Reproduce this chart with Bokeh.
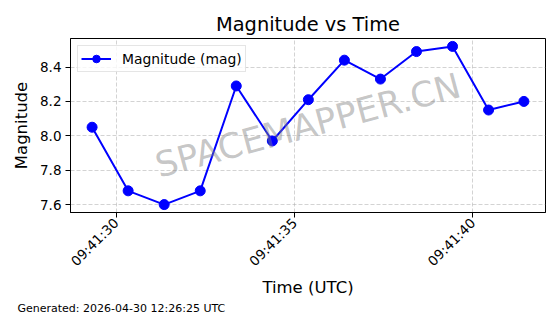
import math
import pandas as pd
from bokeh.plotting import figure
from bokeh.models import (Range1d, FixedTicker, DatetimeTickFormatter, Label, Title,
                          Legend, LegendItem, NumeralTickFormatter)
from bokeh.embed import file_html
from bokeh.resources import INLINE

# ---------------- data ----------------
date = "2026-04-30"
times = ["09:41:29.33", "09:41:30.34", "09:41:31.35", "09:41:32.36", "09:41:33.37",
         "09:41:34.38", "09:41:35.39", "09:41:36.40", "09:41:37.41", "09:41:38.42",
         "09:41:39.43", "09:41:40.44", "09:41:41.43"]
magnitudes = [8.05, 7.68, 7.60, 7.68, 8.29, 7.97, 8.21, 8.44, 8.33, 8.49, 8.52, 8.15, 8.20]
x_tick_labels = ["09:41:30", "09:41:35", "09:41:40"]
y_ticks = [7.6, 7.8, 8.0, 8.2, 8.4]
title_text = "Magnitude vs Time"
x_label = "Time (UTC)"
y_label = "Magnitude"
series_label = "Magnitude (mag)"
watermark = "SPACEMAPPER.CN"
footer_text = "Generated: 2026-04-30 12:26:25 UTC"

FONT = "DejaVu Sans"

xs = pd.to_datetime([f"{date} {t}" for t in times])
x_ms = [v / 1e6 for v in xs.asi8]
tick_ms = [pd.Timestamp(f"{date} {t}").value / 1e6 for t in x_tick_labels]

# matplotlib-like 5% margins
xmin, xmax = min(x_ms), max(x_ms)
ymin, ymax = min(magnitudes), max(magnitudes)
xpad = (xmax - xmin) * 0.05
ypad = (ymax - ymin) * 0.05
x0, x1 = xmin - xpad, xmax + xpad
y0, y1 = ymin - ypad, ymax + ypad

p = figure(width=560, height=314, x_axis_type="datetime", output_backend="svg",
           toolbar_location=None, x_range=Range1d(x0, x1), y_range=Range1d(y0, y1),
           min_border_left=70, min_border_right=15, min_border_top=38, min_border_bottom=102)

p.background_fill_color = "white"
p.border_fill_color = "white"
p.outline_line_color = "black"
p.outline_line_width = 1
p.outline_line_alpha = 1

# title
p.title.text = title_text
p.title.align = "center"
p.title.text_font = FONT
p.title.text_font_size = "19.4px"
p.title.text_font_style = "normal"
p.title.text_color = "black"
p.title.standoff = 6

# glyphs
line_r = p.line(x=xs, y=magnitudes, line_color="blue", line_width=2)
scat_r = p.scatter(x=xs, y=magnitudes, size=10, fill_color="blue", line_color="blue")

# axes
p.xaxis.ticker = FixedTicker(ticks=tick_ms)
fmt = "%H:%M:%S"
p.xaxis.formatter = DatetimeTickFormatter(milliseconds=fmt, seconds=fmt, minsec=fmt,
                                          minutes=fmt, hourmin=fmt, hours=fmt)
p.xaxis.major_label_orientation = math.pi / 4
p.yaxis.ticker = FixedTicker(ticks=y_ticks)
p.yaxis.formatter = NumeralTickFormatter(format="0.0")

for ax in (p.xaxis, p.yaxis):
    ax.axis_line_color = "black"
    ax.major_tick_line_color = "black"
    ax.major_tick_out = 5
    ax.major_tick_in = 0
    ax.minor_tick_out = 0
    ax.minor_tick_in = 0
    ax.major_label_text_font = FONT
    ax.major_label_text_font_size = "13.5px"
    ax.major_label_text_color = "black"
    ax.axis_label_text_font = FONT
    ax.axis_label_text_font_size = "16.5px"
    ax.axis_label_text_font_style = "normal"
    ax.axis_label_text_color = "black"
    ax.major_label_standoff = 4

p.xaxis.major_label_standoff = 3
p.xaxis.axis_label = x_label
p.yaxis.axis_label = y_label
p.xaxis.axis_label_standoff = 0
p.yaxis.axis_label_standoff = 6

# grid
for g in (p.xgrid, p.ygrid):
    g.grid_line_color = "#b0b0b0"
    g.grid_line_alpha = 0.7
    g.grid_line_dash = "4 2"
    g.grid_line_width = 0.8

# watermark
p.add_layout(Label(x=(x0 + x1) / 2, y=(y0 + y1) / 2, text=watermark,
                   angle=math.radians(15), text_align="center", text_baseline="middle",
                   text_font=FONT, text_font_size="35px", text_color="gray", text_alpha=0.45))

# legend
legend = Legend(items=[LegendItem(label=series_label, renderers=[line_r, scat_r])],
                location="top_left")
legend.label_text_font = FONT
legend.label_text_font_size = "13.9px"
legend.label_text_color = "black"
legend.border_line_color = "#cccccc"
legend.border_line_width = 1
legend.background_fill_alpha = 0.8
legend.padding = 3
legend.margin = 7
legend.glyph_width = 30
legend.glyph_height = 19
legend.label_height = 19
legend.label_standoff = 11
p.add_layout(legend)

# footer
footer = Title(text=footer_text, align="left", text_font=FONT, text_font_size="11px",
               text_font_style="normal", text_color="black", offset=-53, standoff=0)
p.add_layout(footer, "below")

open("out.html", "w").write(file_html(p, INLINE))
